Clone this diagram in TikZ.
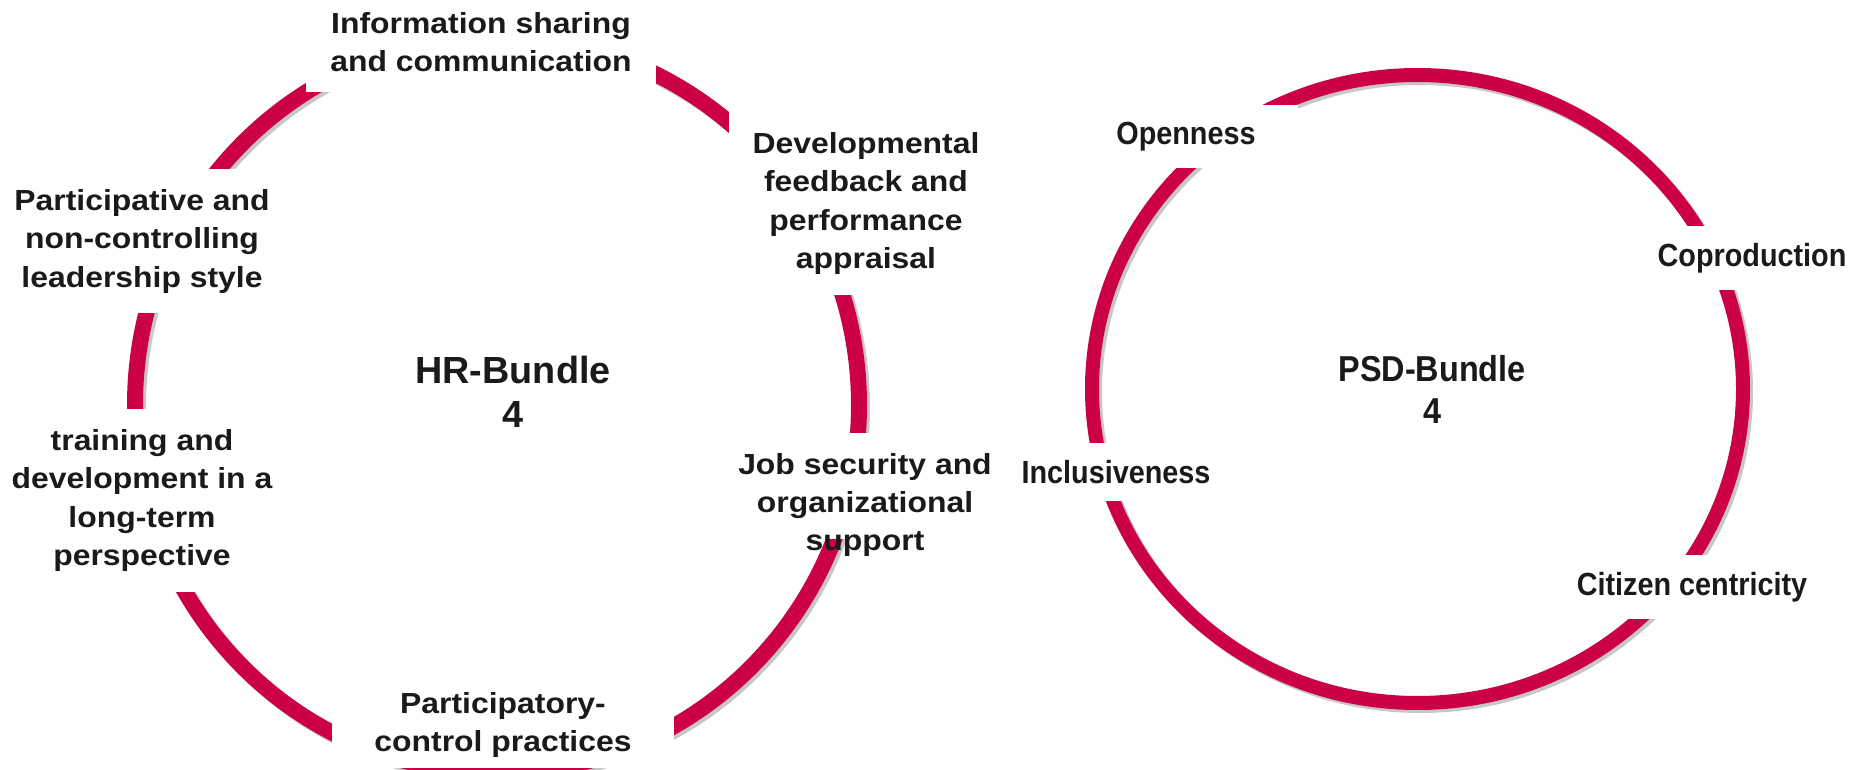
\documentclass[tikz,border=0pt]{standalone}
\usepackage{fontspec}
\setmainfont{Liberation Sans}
\newfontfamily\widesf[FakeStretch=1.1]{Liberation Sans}
\newfontfamily\narrowsf[FakeStretch=0.9]{Liberation Sans}
\definecolor{ringred}{HTML}{CC0044}
\definecolor{labelink}{HTML}{1A1A1A}
\tikzset{
  ring/.style={draw=ringred, line width=#1},
  ringshade/.style={draw=black, opacity=0.22, line width=#1},
  hrlabel/.style={fill=white, text=labelink, align=center, anchor=north,
    inner xsep=12pt, inner ysep=10pt,
    font=\widesf\bfseries\fontsize{14.5}{19.25}\selectfont},
  hrtext/.style={hrlabel, fill=none, anchor=base, inner sep=0pt},
  psdlabel/.style={fill=white, text=labelink, align=center, anchor=north,
    inner xsep=10pt, inner ysep=8.5pt,
    font=\narrowsf\bfseries\fontsize{16}{20}\selectfont},
  bundle/.style={text=labelink, align=center, anchor=north, inner sep=0pt}
}

\begin{document}
\begin{tikzpicture}[x=0.5pt, y=-0.5pt]
  \def\HRc{(497,405)}
  \def\PSDc{(1417.5,389)}
  \fill[white] (0,0) rectangle (1854,770);
  \useasboundingbox (0,0) rectangle (1854,770);

  % the two rings
  \draw[ringshade=8pt, xshift=1.5pt, yshift=-1.5pt] \HRc ellipse [x radius=181pt, y radius=184pt];
  \draw[ring=8pt] \HRc ellipse [x radius=181pt, y radius=184pt];
  \draw[ringshade=7pt, xshift=1.5pt, yshift=-1.5pt] \PSDc ellipse [x radius=162.75pt, y radius=157pt];
  \draw[ring=7pt] \PSDc ellipse [x radius=162.75pt, y radius=157pt];

  % HR practices round the left ring
  \node[hrlabel] (info)    at (481,-8)  {Information sharing\\and communication};
  \node[hrlabel] (devfb)   at (866,112) {Developmental\\feedback and\\performance\\appraisal};
  \node[hrlabel] (partic)  at (142,169) {Participative and\\non-controlling\\leadership style};
  \node[hrlabel] (train)   at (142,409) {training and\\development in a\\long-term\\perspective};
  \node[hrlabel] (jobsec)  at (865,433) {Job security and\\organizational};
  \node[hrtext]  (jobsup)  at (865,550) {support};
  \node[hrlabel, inner xsep=21pt, inner ysep=5pt] (partctl) at (503,682) {Participatory-\\control practices};
  \node[bundle, font=\bfseries\fontsize{18.9}{22}\selectfont] (hr) at (513,356) {HR-Bundle\\4};

  % PSD values round the right ring
  \node[psdlabel, inner xsep=21pt] (open) at (1186,105) {Openness};
  \node[psdlabel] (coprod)  at (1752,226) {Coproduction};
  \node[psdlabel] (inclus)  at (1116,443) {Inclusiveness};
  \node[psdlabel] (citizen) at (1692,555) {Citizen centricity};
  \node[bundle, font=\narrowsf\bfseries\fontsize{18}{21}\selectfont] (psd) at (1432,355) {PSD-Bundle\\4};
\end{tikzpicture}
\end{document}
